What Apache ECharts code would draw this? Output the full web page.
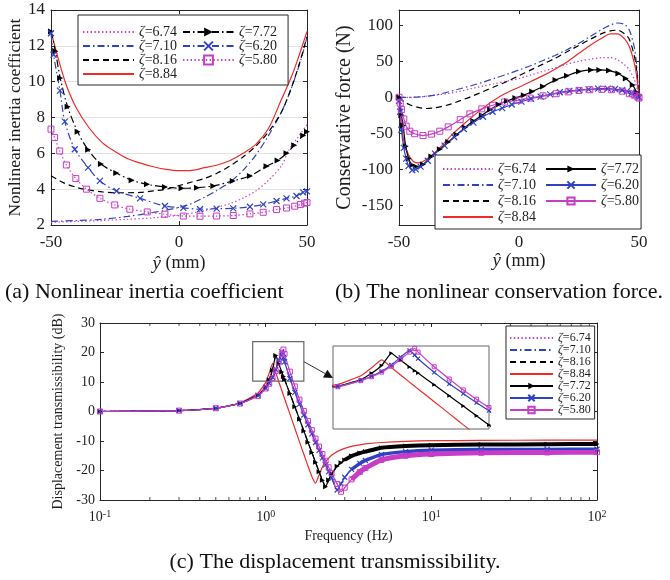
<!DOCTYPE html>
<html><head><meta charset="utf-8">
<script src="https://cdn.jsdelivr.net/npm/echarts@6/dist/echarts.min.js"></script>
<style>html,body{margin:0;padding:0;background:#fff;}#main{width:670px;height:580px;}</style>
</head><body><div id="main"></div>
<script>
// ================= DATA =================
// legend labels (zeta values)
const zetaNames = ['ζ=6.74','ζ=7.10','ζ=8.16','ζ=8.84','ζ=7.72','ζ=6.20','ζ=5.80'];
const zetaHasMarker = [false,false,false,false,true,true,true];

// ---- (a) Nonlinear inertia coefficient vs y-hat (mm)
const aX674=[-50,-40,-30,-20,-10,0,10,15,20,25,30,35,40,43,46,48,50];
const aY674=[2.15,2.2,2.25,2.32,2.4,2.55,2.8,3.0,3.2,3.5,3.9,4.5,5.3,6.2,6.8,7.2,7.6];
const aX710=[-50,-40,-30,-20,-10,0,5,10,15,20,25,30,35,40,43,46,48,50];
const aY710=[2.2,2.25,2.32,2.48,2.7,2.98,3.2,3.55,3.95,4.4,5.05,5.9,7.0,8.3,9.3,10.5,11.4,12.5];
const aX816=[-50,-45,-40,-35,-30,-25,-20,-15,-10,-5,0,5,10,15,20,25,30,35,40,44,47,50];
const aY816=[4.75,4.35,4.1,3.95,3.85,3.8,3.8,3.82,3.9,4.0,4.2,4.4,4.6,4.9,5.3,5.8,6.4,7.2,8.3,9.7,11.0,12.5];
const aX884=[-50,-47,-44,-40,-35,-30,-25,-20,-15,-10,-5,0,5,10,15,20,25,30,35,40,44,47,50];
const aY884=[12.8,11.2,9.8,8.5,7.4,6.6,6.1,5.7,5.45,5.25,5.1,5.03,5.05,5.2,5.35,5.6,6.0,6.5,7.4,9.0,10.3,11.5,12.8];
const aX772=[-50,-48.3,-46.4,-43.5,-39.6,-35.5,-30.5,-24.5,-18.5,-12.5,-5.5,1,7,13.4,21,27.7,34.2,38.5,42,45,48.5,50];
const aY772=[12.8,11.7,10.2,8.6,7.2,6.2,5.4,4.9,4.5,4.27,4.12,4.05,4.08,4.18,4.46,4.74,5.28,5.6,6.0,6.45,7.0,7.2];
const aX620=[-50,-49,-46.5,-44.6,-40.7,-35.5,-30.9,-24.4,-15.2,-5.5,1.7,8.2,14.7,21.2,27.7,32.9,38.1,42,45.9,48.5,50];
const aY620=[12.7,11.5,9.5,7.77,6.23,5.2,4.46,3.9,3.49,3.06,2.96,2.88,2.91,2.93,3.02,3.15,3.34,3.49,3.62,3.82,3.88];
const aX580=[-50,-48.6,-46.6,-44,-40.3,-36.1,-30.9,-25.1,-19.2,-12.4,-5.5,1.7,8.2,14.7,21.2,27.7,32.9,38.1,42,45.2,47.4,49.1,50];
const aY580=[7.35,6.88,6.13,5.35,4.59,4.0,3.49,3.12,2.88,2.73,2.6,2.5,2.49,2.5,2.53,2.62,2.71,2.86,2.95,3.05,3.14,3.22,3.25];

// ---- (b) Conservative force (N) vs y-hat (mm)
const bX674=[-50,-45,-40,-35,-30,-25,-20,-15,-10,-5,0,5,10,15,20,25,30,35,38,41,44,46,48,49,50];
const bY674=[0,0,1,3,5,8,12,15.5,19,22.5,26,31,36,41,46,50,53,55,55,52,45,38,25,15,1];
const bX710=[-50,-45,-40,-35,-30,-25,-20,-15,-10,-5,0,5,10,15,20,25,30,35,38,41,44,46,48,49,50];
const bY710=[0,0,1,3,7,11.5,16,21,26.5,32,38,44,51,58,66,75,85,95,100,103,101,93,70,45,2];
const bX816=[-50,-48,-45,-42,-39,-36,-32,-28,-24,-20,-15,-10,-5,0,5,10,15,20,25,30,35,38,41,44,46,48,49,50];
const bY816=[0,-6,-11,-14,-15.5,-15,-12.5,-9,-4,1,8,15,22,30,38,46,54,63,72,81,89,92,93,88,80,58,38,2];
const bX884=[-50,-49,-48,-46,-44,-42,-40,-37,-33,-28,-23,-18,-13,-8,-4,0,5,10,15,20,25,30,35,38,41,44,46,48,49,50];
const bY884=[0,-40,-60,-80,-89,-91,-89,-82,-70,-52,-37,-23,-10,1,8,14,22,30,39,49,61,73,83,88,88,81,70,48,30,2];
const bX772=[-50,-49,-48.3,-47.2,-46,-44.5,-43,-40,-36.5,-33,-29.5,-26,-22.5,-19,-15.5,-12,-8.5,-5,-1.5,2,5.5,10,15.2,20,25,30,33.5,37.5,41.4,44.5,47.4,49,50];
const bY772=[0,-25,-39,-68,-85,-94,-96,-93,-82,-72,-62,-52,-42,-33,-25,-17,-10,-5,-1,3,8,15,24,30,35.6,38,38,37,33,26,17,7,2];
const bX620=[-50,-49.5,-49,-48,-47,-46,-44.5,-43,-41,-38,-35,-31,-27,-23,-19,-15,-11,-7,-3,1,5,9,13,17,21,25,29,33,37,40,43,45,47,48.5,50];
const bY620=[-5,-20,-45,-70,-85,-95,-101,-100,-96,-88,-78,-67,-55,-44,-35,-27,-20,-15,-10,-6,-2,1,4,7,9,10,11,12,12,11.5,10,8.5,6,3,0];
const bX580=[-50,-49.5,-49,-48,-47,-45.5,-43.5,-40,-36.5,-33,-29.5,-24.5,-20.5,-15.5,-11,-6,0,4.5,10,15.5,20.5,25,29.5,34.5,38.5,43,46,48,49.5,50];
const bY580=[0,-8,-17,-30,-40,-47,-50.5,-53,-51,-47,-41,-31,-23,-16,-11,-6.5,-4,-1,2,5,7.5,9.5,10.5,11,10.5,8.5,5,3,0.5,-1];

// ---- (c) Displacement transmissibility (dB) vs frequency (Hz)
const freqC=[0.1,0.3,0.5,0.7,0.9,1.0,1.05,1.1,1.15,1.2,1.25,1.28,1.3,1.4,1.5,1.6,1.7,1.8,1.9,2.0,2.1,2.2,2.3,2.4,2.5,2.7,2.85,3.0,3.3,3.7,4.0,5,7,10,20,50,100];
const c884=[0,0.3,1.1,2.9,6.3,9.8,13,16.3,13.2,10.1,7.2,5.5,4.4,-0.8,-5.7,-10.3,-14.5,-18.5,-22,-24.3,-21.5,-18.8,-17,-15.8,-14.8,-13.6,-13,-12.5,-11.8,-11.3,-11,-10.5,-10.1,-9.9,-9.8,-9.7,-9.7];
const c772=[0,0.3,1.1,2.8,5.6,8.3,10.8,14,19,16.2,13.4,11.9,10.9,6.1,1.6,-2.6,-6.6,-10.4,-13.9,-17.2,-20.4,-23.3,-25.5,-23.2,-21.2,-18.6,-17.4,-16.4,-15.1,-14.1,-13.6,-12.3,-11.7,-11.4,-11.2,-11.1,-11.0];
const c620=[0,0.3,1.1,2.7,5.4,7.9,9.6,11.6,14.2,17.4,20.2,18.3,16.8,11.2,6.5,2.5,-1.2,-4.5,-7.6,-10.5,-13.2,-15.7,-18.1,-20.4,-22.5,-26.6,-24.5,-22.3,-19.6,-17.6,-16.6,-14.6,-13.6,-13.1,-12.9,-12.85,-12.8];
const c580=[0,0.3,1.1,2.7,5.3,7.8,9.4,11.3,13.7,16.6,19.5,21,19.5,13.5,8.5,4,0.2,-3.2,-6.3,-9.2,-11.9,-14.4,-16.7,-18.9,-20.9,-24.6,-27.2,-25.8,-23,-20.5,-19.2,-16.4,-15,-14.4,-14.0,-13.9,-13.8];
const cMinorTicks=[0.2,0.3,0.4,0.5,0.6,0.7,0.8,0.9,2,3,4,5,6,7,8,9,20,30,40,50,60,70,80,90];
const cZoomBox=[0.835,1.70,10.3,23.7];   // freq range, dB range of the marked box
const cInsetRange=[0.88,1.8,-12,22];     // inset axes: freq range, dB range

// ================= STYLE =================
const F='Liberation Serif';
const AX='#262626', TXT='#1e1e1e';
const MAG='#c83cc8', BLUE='#2f42c4', RED='#ee2b2b', BLK='#000000';
const DOT=[1.4,2.4], DASHDOT=[7,3,1.5,3], DASH=[6,4];
const SYM_X='path://M0,0L10,10M10,0L0,10';
const zip=(xs,ys)=>xs.map((x,i)=>[x,ys[i]]);

function line(name,g,data,color,type,width,extra){
  return Object.assign({name,type:'line',xAxisIndex:g,yAxisIndex:g,data,symbol:'none',
    smooth:false,clip:true,silent:true,animation:false,
    lineStyle:{color,type,width},itemStyle:{color},emphasis:{disabled:true}},extra||{});
}
const mTri=s=>({symbol:'triangle',symbolRotate:-90,symbolSize:s,itemStyle:{color:BLK}});
const mX=s=>({symbol:SYM_X,symbolSize:s,itemStyle:{color:'none',borderColor:BLUE,borderWidth:1.2}});
const mSq=s=>({symbol:'rect',symbolSize:s,itemStyle:{color:'none',borderColor:MAG,borderWidth:1}});

const series=[];
// (a)
const sm={smooth:0.3};
series.push(line('a|'+zetaNames[0],0,zip(aX674,aY674),MAG,DOT,1.2,sm));
series.push(line('a|'+zetaNames[1],0,zip(aX710,aY710),BLUE,DASHDOT,1.2,sm));
series.push(line('a|'+zetaNames[2],0,zip(aX816,aY816),BLK,DASH,1.2,sm));
series.push(line('a|'+zetaNames[3],0,zip(aX884,aY884),RED,'solid',1.2,sm));
series.push(line('a|'+zetaNames[4],0,zip(aX772,aY772),BLK,DASHDOT,1.2,Object.assign({smooth:0.3},mTri(6))));
series.push(line('a|'+zetaNames[5],0,zip(aX620,aY620),BLUE,DASHDOT,1.2,Object.assign({smooth:0.3},mX(6))));
series.push(line('a|'+zetaNames[6],0,zip(aX580,aY580),MAG,DOT,1.2,Object.assign({smooth:0.3},mSq(6))));
// (b)
series.push(line('b|'+zetaNames[0],1,zip(bX674,bY674),MAG,DOT,1.2,sm));
series.push(line('b|'+zetaNames[1],1,zip(bX710,bY710),BLUE,DASHDOT,1.2,sm));
series.push(line('b|'+zetaNames[2],1,zip(bX816,bY816),BLK,DASH,1.2,sm));
series.push(line('b|'+zetaNames[3],1,zip(bX884,bY884),RED,'solid',1.2,sm));
series.push(line('b|'+zetaNames[4],1,zip(bX772,bY772),BLK,'solid',1.2,Object.assign({smooth:0.3},mTri(6))));
series.push(line('b|'+zetaNames[5],1,zip(bX620,bY620),BLUE,'solid',1.2,Object.assign({smooth:0.3},mX(6))));
series.push(line('b|'+zetaNames[6],1,zip(bX580,bY580),MAG,'solid',1.2,Object.assign({smooth:0.3},mSq(6))));
// (c)
const sc={smooth:0.15};
series.push(line('c|'+zetaNames[0],2,zip(freqC,c580),MAG,DOT,1.2,sc));
series.push(line('c|'+zetaNames[1],2,zip(freqC,c620),BLUE,DASHDOT,1.2,sc));
series.push(line('c|'+zetaNames[2],2,zip(freqC,c772),BLK,DASH,1.2,sc));
const redCIndex=series.length;
series.push(line('c|'+zetaNames[3],2,zip(freqC,c884),RED,'solid',1.2,{smooth:0.15,
  markArea:{silent:true,itemStyle:{color:'rgba(0,0,0,0)',borderColor:'#6a6a6a',borderWidth:1.2},
    data:[[{coord:[cZoomBox[0],cZoomBox[3]]},{coord:[cZoomBox[1],cZoomBox[2]]}]]}}));
const i30=freqC.indexOf(3.0), i33=freqC.indexOf(3.3);
series.push(line('band1',2,zip(freqC.slice(i30),c772.slice(i30)),BLK,'solid',4,sc));
series.push(line('band2',2,zip(freqC.slice(i33),c620.slice(i33)),BLUE,'solid',3.5,sc));
series.push(line('band3',2,zip(freqC.slice(i33),c580.slice(i33)),MAG,'solid',5,sc));
series.push(line('c|'+zetaNames[4],2,zip(freqC,c772),BLK,'solid',1.2,Object.assign({smooth:0.15},mTri(5))));
series.push(line('c|'+zetaNames[5],2,zip(freqC,c620),BLUE,'solid',1.2,Object.assign({smooth:0.15},mX(5))));
series.push(line('c|'+zetaNames[6],2,zip(freqC,c580),MAG,'solid',1.2,Object.assign({smooth:0.15},mSq(5))));
// minor log ticks (bottom & top of panel c)
series.push({name:'mtb',type:'scatter',xAxisIndex:2,yAxisIndex:2,silent:true,clip:false,
  data:cMinorTicks.map(f=>[f,-30]),symbol:'rect',symbolSize:[1,3],symbolOffset:[0,-1.5],itemStyle:{color:AX}});
series.push({name:'mtt',type:'scatter',xAxisIndex:2,yAxisIndex:2,silent:true,clip:false,
  data:cMinorTicks.map(f=>[f,30]),symbol:'rect',symbolSize:[1,3],symbolOffset:[0,1.5],itemStyle:{color:AX}});
// inset (zoom of the peak)
const redInIndex=series.length;
series.push(line('in1',3,zip(freqC,c884),RED,'solid',1.2,sc));
series.push(line('in2',3,zip(freqC,c772),BLK,'solid',1.2,Object.assign({smooth:0.15},mTri(4))));
series.push(line('in3',3,zip(freqC,c620),BLUE,'solid',1.2,Object.assign({smooth:0.15},mX(4))));
series.push(line('in4',3,zip(freqC,c580),MAG,'solid',1.2,Object.assign({smooth:0.15},mSq(4))));

// ================= AXES =================
const tick={show:true,inside:true,length:4,lineStyle:{color:AX,width:1}};
const aline={show:true,onZero:false,lineStyle:{color:AX,width:1}};
function lab(fs,margin,extra){return Object.assign({show:true,fontFamily:F,fontSize:fs,color:TXT,margin},extra||{});}
const noLab={show:false};
const yhat='{i|ŷ} (mm)';
const yhatStyle=fs=>({fontFamily:F,fontSize:fs,color:TXT,rich:{i:{fontStyle:'italic',fontFamily:F,fontSize:fs+1,color:TXT}}});
const logFmt=v=>'10{s|'+Math.round(Math.log10(v))+'}';

const xAxis=[
  {gridIndex:0,type:'value',position:'bottom',min:-50,max:50,interval:50,axisLine:aline,axisTick:tick,
   axisLabel:lab(17,9),splitLine:{show:false},name:yhat,nameLocation:'middle',nameGap:29,nameTextStyle:yhatStyle(18)},
  {gridIndex:1,type:'value',position:'bottom',min:-50,max:50,interval:50,axisLine:aline,axisTick:tick,
   axisLabel:lab(17,9),splitLine:{show:false},name:yhat,nameLocation:'middle',nameGap:24,nameTextStyle:yhatStyle(18)},
  {gridIndex:2,type:'log',logBase:10,position:'bottom',min:0.1,max:100,axisLine:aline,axisTick:tick,
   axisLabel:lab(14,9,{formatter:logFmt,rich:{s:{fontFamily:F,fontSize:10,color:TXT,verticalAlign:'top',padding:[0,0,6,0]}}}),
   splitLine:{show:false},minorTick:{show:false},name:'Frequency (Hz)',nameLocation:'middle',nameGap:29,
   nameTextStyle:{fontFamily:F,fontSize:14,color:TXT}},
  {gridIndex:3,type:'log',logBase:10,min:cInsetRange[0],max:cInsetRange[1],show:false},
  {gridIndex:0,type:'value',position:'top',min:-50,max:50,interval:50,axisLine:aline,axisTick:tick,axisLabel:noLab,splitLine:{show:false}},
  {gridIndex:1,type:'value',position:'top',min:-50,max:50,interval:50,axisLine:aline,axisTick:tick,axisLabel:noLab,splitLine:{show:false}},
  {gridIndex:2,type:'log',logBase:10,position:'top',min:0.1,max:100,axisLine:aline,axisTick:tick,axisLabel:noLab,splitLine:{show:false}}
];
const yAxis=[
  {gridIndex:0,type:'value',position:'left',min:2,max:14,interval:2,axisLine:aline,axisTick:tick,axisLabel:lab(17,6),
   splitLine:{show:true,showMinLine:false,showMaxLine:false,lineStyle:{color:'#e3e3e3',width:1}},
   name:'Nonlinear inertia coefficient',nameLocation:'middle',nameGap:27,nameTextStyle:{fontFamily:F,fontSize:17.5,color:TXT}},
  {gridIndex:1,type:'value',position:'left',min:-177,max:121,splitNumber:6,axisLine:aline,axisTick:tick,
   axisLabel:lab(17,6,{showMinLabel:false,showMaxLabel:false}),splitLine:{show:false},
   name:'Conservative force (N)',nameLocation:'middle',nameGap:44,nameTextStyle:{fontFamily:F,fontSize:20,color:TXT}},
  {gridIndex:2,type:'value',position:'left',min:-30,max:30,interval:10,axisLine:aline,axisTick:tick,axisLabel:lab(14,5),
   splitLine:{show:false},name:'Displacement transmissibility (dB)',nameLocation:'middle',nameGap:25,
   nameTextStyle:{fontFamily:F,fontSize:14,color:TXT}},
  {gridIndex:3,type:'value',min:cInsetRange[2],max:cInsetRange[3],show:false},
  {gridIndex:0,type:'value',position:'right',min:2,max:14,interval:2,axisLine:aline,axisTick:tick,axisLabel:noLab,splitLine:{show:false}},
  {gridIndex:1,type:'value',position:'right',min:-177,max:121,splitNumber:6,axisLine:aline,axisTick:tick,axisLabel:noLab,splitLine:{show:false}},
  {gridIndex:2,type:'value',position:'right',min:-30,max:30,interval:10,axisLine:aline,axisTick:tick,axisLabel:noLab,splitLine:{show:false}}
];

// ================= LEGENDS =================
const zfmt=n=>'{i|ζ}'+n.slice(3);
function leg(id,prefix,idx,o){
  return Object.assign({id,
    data:idx.map(i=>zetaHasMarker[i]?{name:prefix+zetaNames[i]}:{name:prefix+zetaNames[i],itemStyle:{opacity:0}}),
    formatter:zfmt,orient:'vertical',selectedMode:false,
    backgroundColor:'transparent',borderWidth:0,
    textStyle:{fontFamily:F,fontSize:o.fs,color:TXT,lineHeight:o.lh,rich:{i:{fontStyle:'italic',fontFamily:F,fontSize:o.fs,color:TXT,lineHeight:o.lh}}},
    itemHeight:o.lh},o.extra);
}
const legend=[
  leg('A1','a|',[0,1,2,3],{fs:14,lh:11,extra:{left:78,top:15,itemWidth:51,itemGap:0,padding:[10,111,4,4],
    borderColor:AX,borderWidth:1,backgroundColor:'#fff',z:10}}),
  leg('A2','a|',[4,5,6],{fs:14,lh:11,extra:{left:182,top:25,itemWidth:51,itemGap:0,padding:0,z:11}}),
  leg('B1','b|',[0,1,2,3],{fs:14,lh:9,extra:{left:435,top:155,itemWidth:50,itemGap:2,padding:[7,105,5,7],
    borderColor:AX,borderWidth:1,backgroundColor:'#fff',z:10}}),
  leg('B2','b|',[4,5,6],{fs:14,lh:9,extra:{left:545,top:162,itemWidth:50,itemGap:2,padding:0,z:11}}),
  leg('C','c|',[0,1,2,3,4,5,6],{fs:12,lh:8,extra:{left:506,top:326,itemWidth:43,itemGap:0,padding:[6,4,3,3],
    borderColor:AX,borderWidth:1,backgroundColor:'#fff',z:10}})
];

const capStyle={fontFamily:F,fontSize:22,fill:'#111'};
const option={
  animation:false,backgroundColor:'#fff',textStyle:{fontFamily:F},
  grid:[
    {left:51,top:10,width:256,height:215,containLabel:false,outerBoundsMode:'none'},
    {left:399,top:10,width:240,height:215,containLabel:false,outerBoundsMode:'none'},
    {left:100,top:323,width:497,height:177,containLabel:false,outerBoundsMode:'none'},
    {left:333,top:346,width:156,height:83,show:true,borderColor:'#666',borderWidth:1,backgroundColor:'#fff',containLabel:false,outerBoundsMode:'none'}
  ],
  xAxis,yAxis,legend,series,
  graphic:[
    {type:'text',id:'capA',left:5,top:281,style:Object.assign({text:'(a) Nonlinear inertia coefficient'},capStyle)},
    {type:'text',id:'capB',left:335,top:281,style:Object.assign({text:'(b) The nonlinear conservation force.'},capStyle)},
    {type:'text',id:'capC',left:'center',top:551,style:Object.assign({text:'(c) The displacement transmissibility.'},capStyle)}
  ]
};
const chart=echarts.init(document.getElementById('main'),null,{renderer:'canvas'});
chart.setOption(option);

// arrow from zoom box to inset
const p1=chart.convertToPixel({seriesIndex:redCIndex},[cZoomBox[1],16.9]);
const p2=chart.convertToPixel({seriesIndex:redInIndex},[cInsetRange[0],8.9]);
const dx=p2[0]-p1[0],dy=p2[1]-p1[1],L=Math.hypot(dx,dy),ux=dx/L,uy=dy/L;
const hl=9,hw=4.5;
const bx=p2[0]-ux*hl,by=p2[1]-uy*hl;
chart.setOption({graphic:[
  {type:'line',id:'arrL',shape:{x1:p1[0],y1:p1[1],x2:bx,y2:by},style:{stroke:'#333',lineWidth:1},z:20},
  {type:'polygon',id:'arrH',shape:{points:[[p2[0],p2[1]],[bx-uy*hw,by+ux*hw],[bx+uy*hw,by-ux*hw]]},style:{fill:'#111'},z:20}
]});
</script></body></html>
